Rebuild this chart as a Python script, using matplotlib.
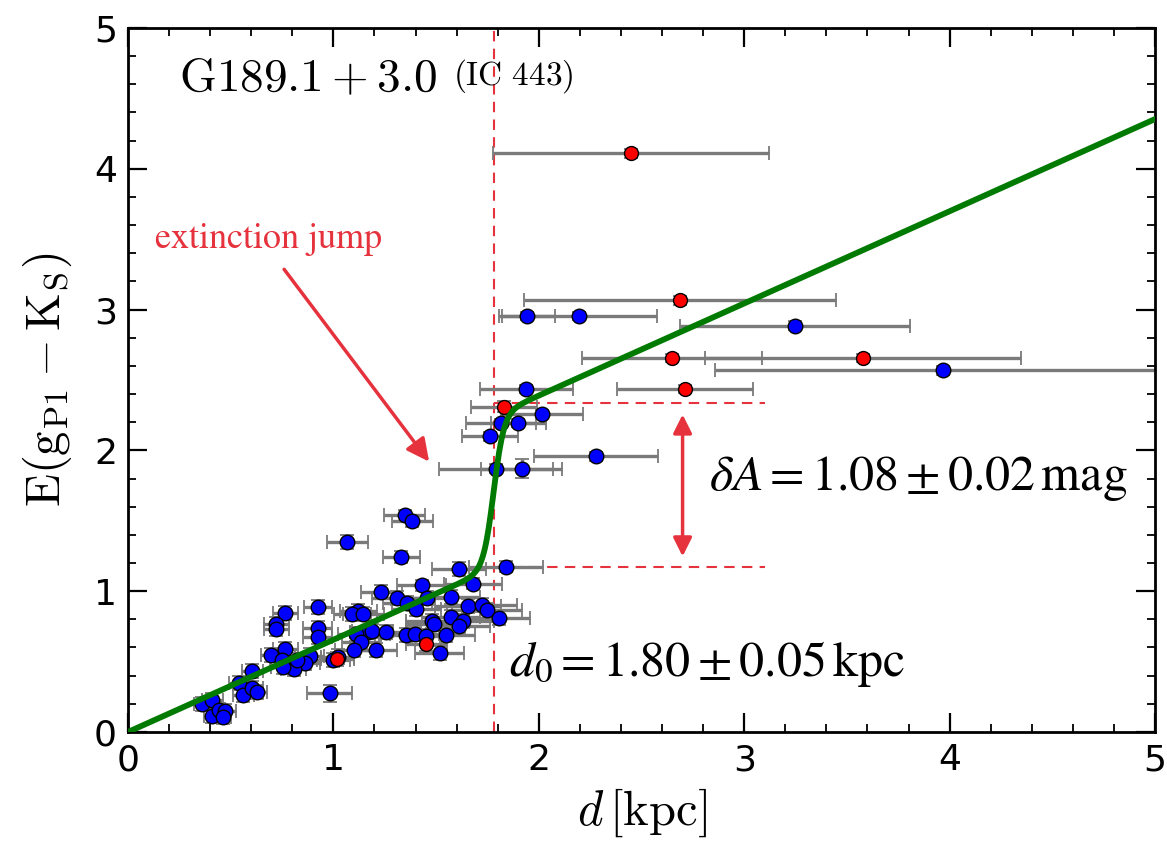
import numpy as np
import matplotlib
matplotlib.use("Agg")
import matplotlib.pyplot as plt
from matplotlib.ticker import MultipleLocator

# stars in the field (blue) and those flagged (red)
blue_d = [1.348, 1.385, 1.067, 1.330, 1.612, 1.841, 1.679, 1.430, 1.232, 1.574,
          1.310, 1.359, 1.456, 1.403, 1.654, 1.724, 1.749, 0.925, 0.766, 1.120,
          1.091, 1.146, 1.808, 1.573, 1.482, 1.630, 1.611, 1.491, 0.722, 0.722,
          0.924, 0.924, 1.169, 1.189, 1.112, 1.258, 1.352, 1.395, 1.452, 1.548,
          1.132, 1.098, 1.209, 1.518, 0.766, 0.697, 0.752, 0.885, 0.864, 0.807,
          0.755, 0.823, 0.999, 1.021, 0.605, 0.541, 0.562, 0.605, 0.627, 0.981,
          0.359, 0.411, 0.411, 0.442, 0.474, 0.461,
          1.943, 2.198, 3.246, 3.969, 1.939, 2.014, 1.815, 1.901, 1.763, 1.791,
          1.917, 2.278]
blue_E = [1.538, 1.496, 1.349, 1.243, 1.157, 1.174, 1.053, 1.042, 0.996, 0.960,
          0.953, 0.917, 0.953, 0.875, 0.896, 0.900, 0.863, 0.887, 0.844, 0.861,
          0.839, 0.836, 0.809, 0.816, 0.789, 0.788, 0.752, 0.768, 0.768, 0.730,
          0.738, 0.678, 0.711, 0.720, 0.696, 0.708, 0.688, 0.693, 0.681, 0.688,
          0.640, 0.580, 0.580, 0.564, 0.592, 0.546, 0.512, 0.543, 0.489, 0.446,
          0.464, 0.512, 0.512, 0.536, 0.434, 0.351, 0.263, 0.311, 0.287, 0.275,
          0.197, 0.228, 0.114, 0.156, 0.151, 0.109,
          2.954, 2.954, 2.886, 2.568, 2.437, 2.260, 2.194, 2.194, 2.100, 1.871,
          1.871, 1.958]
blue_dx = [0.10, 0.10, 0.10, 0.09, 0.13, 0.18, 0.14, 0.12, 0.10, 0.14,
           0.12, 0.12, 0.13, 0.12, 0.16, 0.17, 0.17, 0.07, 0.06, 0.09,
           0.09, 0.10, 0.15, 0.14, 0.13, 0.15, 0.15, 0.14, 0.06, 0.06,
           0.07, 0.07, 0.09, 0.10, 0.09, 0.10, 0.12, 0.12, 0.12, 0.14,
           0.09, 0.09, 0.10, 0.12, 0.06, 0.05, 0.06, 0.07, 0.07, 0.06,
           0.06, 0.07, 0.08, 0.08, 0.05, 0.05, 0.05, 0.05, 0.05, 0.11,
           0.04, 0.05, 0.04, 0.04, 0.05, 0.04,
           0.138, 0.378, 0.56, 1.11, 0.227, 0.20, 0.17, 0.133, 0.138, 0.276,
           0.198, 0.30]
blue_dE = [0.04, 0.04, 0.05, 0.04, 0.05, 0.04, 0.04, 0.04, 0.05, 0.05,
           0.05, 0.05, 0.05, 0.05, 0.05, 0.05, 0.05, 0.05, 0.05, 0.05,
           0.05, 0.05, 0.05, 0.05, 0.05, 0.05, 0.05, 0.05, 0.05, 0.05,
           0.05, 0.05, 0.05, 0.05, 0.05, 0.05, 0.05, 0.05, 0.05, 0.05,
           0.05, 0.05, 0.05, 0.05, 0.05, 0.05, 0.05, 0.05, 0.05, 0.05,
           0.05, 0.05, 0.05, 0.05, 0.05, 0.05, 0.05, 0.05, 0.05, 0.06,
           0.05, 0.05, 0.05, 0.05, 0.05, 0.05,
           0.03, 0.03, 0.03, 0.03, 0.03, 0.03, 0.03, 0.03, 0.03, 0.03,
           0.07, 0.03]

red_d = [2.451, 2.687, 2.647, 3.578, 2.713, 1.829, 1.453, 1.019]
red_E = [4.109, 3.065, 2.658, 2.658, 2.437, 2.311, 0.627, 0.516]
red_dx = [0.672, 0.758, 0.438, 0.769, 0.33, 0.16, 0.10, 0.08]
red_dE = [0.03, 0.03, 0.03, 0.03, 0.03, 0.04, 0.05, 0.05]

# fitted extinction profile
slope = 0.6546
d0 = 1.78
dA = 1.08
width = 0.025

jump_col = "#e5323c"
dash = (0, (5, 3.5))

fig = plt.figure(figsize=(11.67, 8.43), dpi=100)
ax = fig.add_axes([0.1097, 0.1317, 0.8800, 0.8351])

ebar = dict(fmt="none", ecolor="#7a7a7a", elinewidth=2.4, capsize=5, capthick=1.3, zorder=2)
ax.errorbar(blue_d, blue_E, xerr=blue_dx, yerr=blue_dE, **ebar)
ax.errorbar(red_d, red_E, xerr=red_dx, yerr=red_dE, **ebar)
ax.plot(blue_d, blue_E, "o", ms=10.5, mfc="#0000ff", mec="black", mew=1.0, zorder=3)
ax.plot(red_d, red_E, "o", ms=10, mfc="#ff0000", mec="black", mew=1.0, zorder=3)

dd = np.linspace(0, 5, 1000)
model = slope * dd + dA / (1 + np.exp(-(dd - d0) / width))
ax.plot(dd, model, color="#007a00", lw=4.2, zorder=4)

# jump markers
ax.axvline(d0, color=jump_col, ls=dash, lw=1.5, zorder=1)
ax.plot([d0, 3.10], [2.333, 2.333], color=jump_col, ls=dash, lw=1.5, zorder=1)
ax.plot([d0, 3.10], [1.174, 1.174], color=jump_col, ls=dash, lw=1.5, zorder=1)
ax.annotate("", xy=(2.70, 1.247), xytext=(2.70, 2.255),
            arrowprops=dict(arrowstyle="<|-|>", color=jump_col, lw=2.5,
                            mutation_scale=28, shrinkA=0, shrinkB=0))
ax.annotate("", xy=(1.466, 1.92), xytext=(0.76, 3.286),
            arrowprops=dict(arrowstyle="-|>", color=jump_col, lw=2.5,
                            mutation_scale=34, shrinkA=0, shrinkB=0))

ax.text(0.127, 3.5, r"$\mathrm{extinction\ jump}$", color=jump_col, fontsize=26,
        math_fontfamily="stix", va="center", ha="left")
ax.text(0.25, 4.64, r"$\mathrm{G189.1+3.0}$", fontsize=34, math_fontfamily="cm",
        va="center", ha="left")
ax.text(1.58, 4.66, r"$\mathrm{(IC\ 443)}$", fontsize=24, math_fontfamily="cm",
        va="center", ha="left")
ax.text(2.83, 1.80, r"$\delta A = 1.08 \pm 0.02\,\mathrm{mag}$", fontsize=36,
        math_fontfamily="stix", va="center", ha="left")
ax.text(1.856, 0.48, r"$d_0 = 1.80 \pm 0.05\,\mathrm{kpc}$", fontsize=36,
        math_fontfamily="stix", va="center", ha="left")

ax.set_xlim(0, 5)
ax.set_ylim(0, 5)
ax.xaxis.set_major_locator(MultipleLocator(1))
ax.xaxis.set_minor_locator(MultipleLocator(0.2))
ax.yaxis.set_major_locator(MultipleLocator(1))
ax.yaxis.set_minor_locator(MultipleLocator(0.2))
ax.tick_params(which="both", direction="in", top=True, right=True, labelsize=26)
ax.tick_params(which="major", length=14, width=1.6, pad=8)
ax.tick_params(which="minor", length=6, width=1.3)
for sp in ax.spines.values():
    sp.set_linewidth(2)

ax.set_xlabel(r"$d\,[\mathrm{kpc}]$", fontsize=35, math_fontfamily="cm", labelpad=7)
ax.set_ylabel(r"$\mathrm{E(g_{P1}-K_S)}$", fontsize=35, math_fontfamily="cm", labelpad=14)

fig.savefig("out.png", dpi=100)
